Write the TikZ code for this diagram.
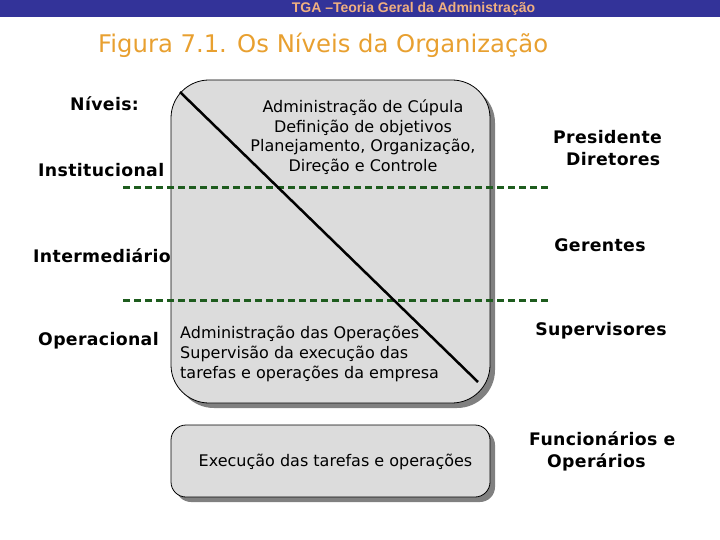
\documentclass[tikz,border=0pt]{standalone}
\usepackage{fontspec}
\setmainfont{DejaVu Sans}
\newfontfamily\lblfont[LetterSpace=2]{DejaVu Sans}
\newfontfamily\hdrfont{Liberation Sans}
\definecolor{hdrblue}{RGB}{51,51,153}
\definecolor{hdrtext}{RGB}{240,176,128}
\definecolor{titleor}{RGB}{232,160,48}
\definecolor{boxfill}{RGB}{220,220,220}
\definecolor{shadowgray}{RGB}{128,128,128}
\definecolor{dashgreen}{RGB}{30,92,30}
\tikzset{
  lvl/.style={font=\lblfont\bfseries\fontsize{17.3}{22}\selectfont, inner sep=0pt},
  who/.style={font=\lblfont\bfseries\fontsize{17.3}{22}\selectfont, inner sep=0pt, align=left},
  boxtxt/.style={font=\fontsize{16}{19.6}\selectfont, inner sep=0pt},
  sepline/.style={draw=dashgreen, line width=3pt, dash pattern=on 7pt off 4pt},
}
\begin{document}
\begin{tikzpicture}[x=1pt,y=-1pt]
\useasboundingbox (0,0) rectangle (720,540);
% header
\fill[hdrblue] (0,0) rectangle (720,17);
\node[font=\hdrfont\bfseries\fontsize{14}{15}\selectfont, text=hdrtext, inner sep=0pt] (hdr) at (413.5,8.5) {TGA –Teoria Geral da Administração};
\node[font=\fontsize{24.3}{28}\selectfont, text=titleor, inner sep=0pt, anchor=west] (title) at (98,45) {Figura 7.1. Os Níveis da Organização};
% big box
\fill[shadowgray, rounded corners=38pt] (176,85) rectangle (495,408);
\draw[black, fill=boxfill, line width=0.8pt, rounded corners=38pt] (171,80) rectangle (490,403);
% small box
\fill[shadowgray, rounded corners=15pt] (176,430) rectangle (495,502);
\draw[black, fill=boxfill, line width=0.8pt, rounded corners=15pt] (171,425) rectangle (490,497);
% dashed separators
\coordinate (s1a) at (123,188); \coordinate (s1b) at (550,188);
\coordinate (s2a) at (123,300); \coordinate (s2b) at (550,300);
\draw[sepline] (s1a) -- (s1b);
\draw[sepline] (s2a) -- (s2b);
% box texts
\node[boxtxt, align=center] (top) at (363,137) {Administração de Cúpula\\Definição de objetivos\\Planejamento, Organização,\\Direção e Controle};
\node[boxtxt, align=left, anchor=west] (ops) at (180,354) {Administração das Operações\\Supervisão da execução das\\tarefas e operações da empresa};
\node[boxtxt] (exec) at (335.5,462) {Execução das tarefas e operações};
% diagonal
\coordinate (d1) at (180,92); \coordinate (d2) at (478,382);
\draw[black, line width=2.5pt] (d1) -- (d2);
% level labels
\node[lvl, anchor=west] (niv) at (70,104) {Níveis:};
\node[lvl, anchor=west] (inst) at (38,170) {Institucional};
\node[lvl, anchor=west] (inter) at (33,256) {Intermediário};
\node[lvl, anchor=west] (oper) at (38,341) {Operacional};
% roles
\node[who, anchor=west] (pres) at (553,148) {Presidente\\\hspace*{13pt}Diretores};
\node[who] (ger) at (600,245) {Gerentes};
\node[who] (sup) at (601,331) {Supervisores};
\node[who, anchor=west] (func) at (529,451) {Funcionários e\\\hspace*{18pt}Operários};
\end{tikzpicture}
\end{document}
